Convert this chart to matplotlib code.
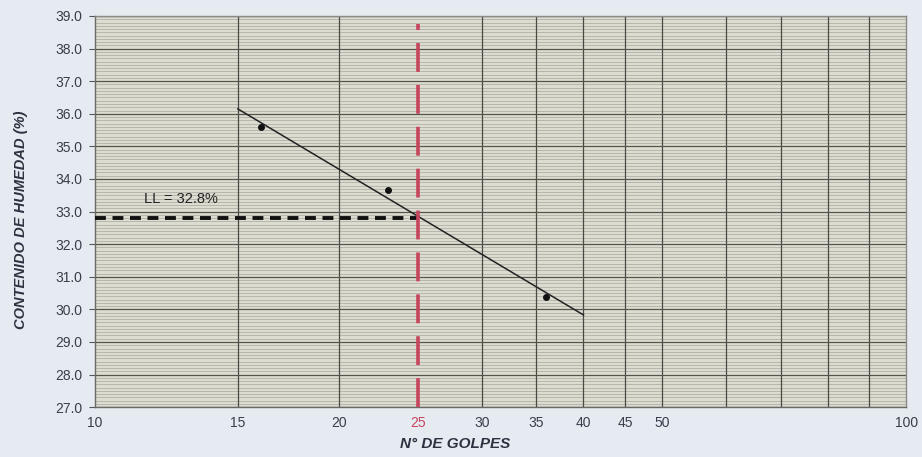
import numpy as np
import matplotlib
matplotlib.use('Agg')
import matplotlib.pyplot as plt
from matplotlib.ticker import FixedLocator, NullFormatter

plt.rcParams['font.family'] = ['Liberation Sans', 'DejaVu Sans']

# ensayo de limite liquido
golpes = [16.0, 23.0, 36.0]
humedad = [35.6, 33.65, 30.38]

# recta de tendencia (extremos)
trend_x = [15, 40]
trend_y = [36.15, 29.83]

ll_golpes = 25
ll_valor = 32.8

x_ticks = [10, 15, 20, 25, 30, 35, 40, 45, 50, 100]
x_grid = [15, 20, 30, 35, 40, 45, 50, 60, 70, 80, 90]
y_ticks = np.arange(27.0, 39.5, 1.0)

fig = plt.figure(figsize=(9.22, 4.57), dpi=100)
fig.patch.set_facecolor('#e6ebf1')
ax = fig.add_axes([0.103, 0.109, 0.880, 0.856])
ax.set_facecolor('#dcdcd1')

ax.set_xscale('log')
ax.set_xlim(10, 100)
ax.set_ylim(27, 39)

# grid
for gx in x_grid:
    ax.axvline(gx, color='#4a4a44', lw=0.9, zorder=1)
for gy in y_ticks:
    ax.axhline(gy, color='#55554e', lw=0.9, zorder=1)
for gy in np.arange(27.0, 39.0, 0.1):
    ax.axhline(gy, color='#a2a29a', lw=0.45, zorder=0.5)

ax.plot(trend_x, trend_y, color='#222222', lw=1.1, zorder=3)
ax.plot(golpes, humedad, 'o', color='#111111', ms=4, zorder=4)

# LL lines
ax.plot([10, ll_golpes], [ll_valor, ll_valor], color='#111111', lw=2.8,
        dashes=(2.8, 1.7), zorder=3)
ax.plot([ll_golpes, ll_golpes], [27, 38.75], color='#c8455e', lw=2.6,
        dashes=(8, 3.6), zorder=3)
ax.text(12.75, 33.4, 'LL = 32.8%', fontsize=10.5, color='#222222',
        ha='center', va='center', zorder=5)

ax.xaxis.set_major_locator(FixedLocator(x_ticks))
ax.xaxis.set_minor_formatter(NullFormatter())
ax.xaxis.set_minor_locator(FixedLocator([]))
ax.set_xticklabels([str(t) for t in x_ticks])
ax.set_yticks(y_ticks)
ax.set_yticklabels(['%.1f' % v for v in y_ticks])
ax.tick_params(axis='both', labelsize=10, labelcolor='#3a3d4a', color='#555555')
ax.tick_params(axis='x', length=0, pad=6)
ax.tick_params(axis='y', length=4, pad=5)
for lbl in ax.get_xticklabels():
    if lbl.get_text() == '25':
        lbl.set_color('#c8455e')

for side in ['top', 'right']:
    ax.spines[side].set_color('#8a8a86')
    ax.spines[side].set_linewidth(1.0)
for side in ['left', 'bottom']:
    ax.spines[side].set_color('#6a6a66')
    ax.spines[side].set_linewidth(1.0)

ax.set_xlabel('N° DE GOLPES', fontsize=11, fontweight='bold', style='italic',
              color='#2e3140', labelpad=4)
ax.xaxis.set_label_coords(0.444, -0.075)
ax.set_ylabel('CONTENIDO DE HUMEDAD (%)', fontsize=10.5, fontweight='bold',
              style='italic', color='#2e3140', labelpad=14)
ax.yaxis.set_label_coords(-0.082, 0.478)

fig.savefig('out.png', dpi=100, facecolor=fig.get_facecolor())
